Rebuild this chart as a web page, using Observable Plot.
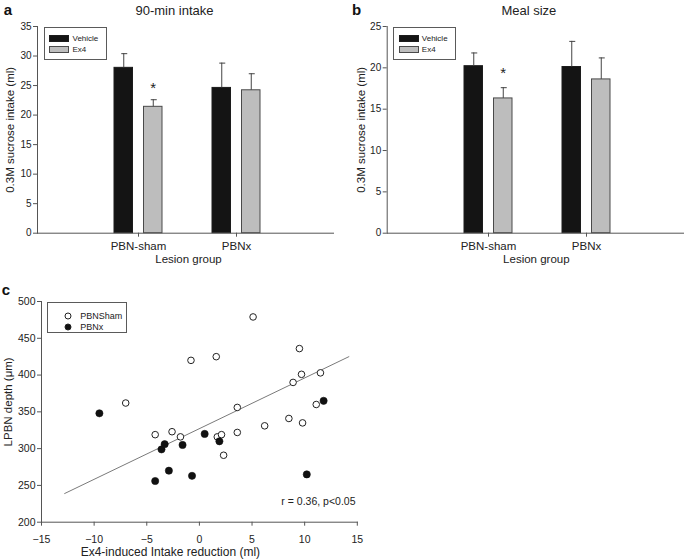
<!DOCTYPE html>
<html>
<head>
<meta charset="utf-8">
<script src="https://cdn.jsdelivr.net/npm/d3@7"></script>
<script src="https://cdn.jsdelivr.net/npm/@observablehq/plot@0.6"></script>
<style>
  html, body { margin: 0; padding: 0; background: #fff; }
  #root { position: relative; width: 685px; height: 559px; overflow: hidden; background: #fff;
          font-family: "Liberation Sans", Arial, sans-serif; color: #222; }
  .panel { position: absolute; }
  .legend { position: absolute; border: 1.3px solid #5a5a5a; background: #fff; box-sizing: border-box; }
  .item { position: absolute; font-size: 8px; line-height: 1; white-space: nowrap; transform: translateY(-50%); color: #222; }
  .sw { position: absolute; box-sizing: border-box; }
  .dot { position: absolute; border-radius: 50%; box-sizing: border-box; transform: translate(-50%, -50%); }
</style>
</head>
<body>
<div id="root"></div>
<script>
// ---------- data ----------
const groups = ["PBN-sham", "PBNx"];
const treatments = ["Vehicle", "Ex4"];
const barGroup = ["PBN-sham", "PBN-sham", "PBNx", "PBNx"];
const barTreatment = ["Vehicle", "Ex4", "Vehicle", "Ex4"];

// panel a: 90-min intake
const intakeMean = [28.0, 21.4, 24.6, 24.2];
const intakeSem = [2.4, 1.2, 4.2, 2.8];
const intakeTicks = [0, 5, 10, 15, 20, 25, 30, 35];
const intakeStarY = [24.6];

// panel b: meal size
const mealMean = [20.2, 16.3, 20.1, 18.6];
const mealSem = [1.6, 1.3, 3.1, 2.6];
const mealTicks = [0, 5, 10, 15, 20, 25];
const mealStarY = [19.4];

const starGroup = ["PBN-sham"];

// panel c: scatter
const shamReduction = [-7.0, -4.2, -2.6, -1.8, -0.8, 1.6, 1.7, 2.1, 2.3, 3.6, 3.6, 5.1, 6.2, 8.5, 8.9, 9.5, 9.7, 9.8, 11.1, 11.5];
const shamDepth     = [362, 319, 323, 316, 420, 425, 316, 319, 291, 356, 322, 479, 331, 341, 390, 436, 401, 335, 360, 403];
const lesionReduction = [-9.5, -4.2, -3.6, -3.3, -2.9, -1.6, -0.7, 0.5, 1.9, 10.2, 11.8];
const lesionDepth     = [348, 256, 299, 306, 270, 305, 263, 320, 310, 265, 365];
const fitReduction = [-12.8, 14.2];
const fitDepth = [239, 425];
const reductionTicks = [-15, -10, -5, 0, 5, 10, 15];
const depthTicks = [200, 250, 300, 350, 400, 450, 500];
const statText = ["r = 0.36, p<0.05"];

const FONT = '"Liberation Sans", Arial, sans-serif';
const AXIS = "#555";
const C = {textAnchor: "middle", lineAnchor: "middle"};

// ---------- bar panels ----------
function barPanel(o) {
  const rows = barGroup.map((g, i) => ({group: g, treatment: barTreatment[i], mean: o.means[i], top: o.means[i] + o.sems[i]}));
  const veh = rows.filter(d => d.treatment === treatments[0]);
  const ex4 = rows.filter(d => d.treatment === treatments[1]);
  const stars = starGroup.map((g, i) => ({group: g, y: o.starY[i]}));
  const off = 14.75;
  return Plot.plot({
    width: o.width, height: 275,
    marginTop: 26, marginBottom: 42.3, marginLeft: o.marginLeft, marginRight: o.marginRight,
    style: {fontFamily: FONT, background: "white", color: "#222", overflow: "visible"},
    x: {domain: groups, paddingInner: 0.51, paddingOuter: 0.765, align: 0.513},
    y: {domain: [0, o.yMax]},
    marks: [
      Plot.barY(veh, {x: "group", y: "mean", fill: "#141414", stroke: "#1c1c1c", strokeWidth: 1, insetLeft: 0, insetRight: 29.5}),
      Plot.barY(ex4, {x: "group", y: "mean", fill: "#bdbdbd", stroke: "#4a4a4a", strokeWidth: 1, insetLeft: 29.5, insetRight: 0}),
      Plot.ruleX(veh, {x: "group", y1: "mean", y2: "top", dx: -off, stroke: "#444"}),
      Plot.ruleX(ex4, {x: "group", y1: "mean", y2: "top", dx: off, stroke: "#444"}),
      Plot.tickY(veh, {x: "group", y: "top", dx: -off + 1, insetLeft: 21, insetRight: 21, stroke: "#444"}),
      Plot.tickY(ex4, {x: "group", y: "top", dx: off + 1, insetLeft: 21, insetRight: 21, stroke: "#444"}),
      Plot.text(stars, {x: "group", y: "y", dx: off, text: () => "*", fontSize: 15, fill: "#222"}),
      Plot.axisY({ticks: o.ticks, tickSize: 4, tickPadding: 2, fontSize: 10, label: null, stroke: AXIS, fill: "#222"}),
      Plot.axisX({tickSize: 4, tickPadding: 5, fontSize: 11.5, label: null, stroke: AXIS, fill: "#222"}),
      Plot.frame({anchor: "left", stroke: AXIS}),
      Plot.frame({anchor: "bottom", stroke: AXIS}),
      Plot.text([o.title], {...C, frameAnchor: "top", text: d => d, dx: o.titleDx, dy: -16, fontSize: 13, fill: "#222"}),
      Plot.text([o.letter], {...C, frameAnchor: "top-left", text: d => d, dx: o.letterDx, dy: -16, fontSize: 15, fontWeight: "bold", fill: "#111"}),
      Plot.text([o.ylabel], {...C, frameAnchor: "left", text: d => d, dx: o.ylabelDx, rotate: -90, fontSize: 11.5, fill: "#222"}),
      Plot.text([o.xlabel], {...C, frameAnchor: "bottom", text: d => d, dx: o.xlabelDx, dy: 26.6, fontSize: 11.5, fill: "#222"})
    ]
  });
}

const root = document.getElementById("root");
function place(node, left, top) {
  const wrap = document.createElement("div");
  wrap.className = "panel";
  wrap.style.left = left + "px";
  wrap.style.top = top + "px";
  wrap.appendChild(node);
  root.appendChild(wrap);
}

const chartA = barPanel({
  means: intakeMean, sems: intakeSem, ticks: intakeTicks, yMax: 35, starY: intakeStarY,
  title: "90-min intake", letter: "a", ylabel: "0.3M sucrose intake (ml)", xlabel: "Lesion group",
  width: 340, marginLeft: 37, marginRight: 7, titleDx: -11, letterDx: -29.5, ylabelDx: -27, xlabelDx: 3
});
place(chartA, 0, 0);

const chartB = barPanel({
  means: mealMean, sems: mealSem, ticks: mealTicks, yMax: 25, starY: mealStarY,
  title: "Meal size", letter: "b", ylabel: "0.3M sucrose intake (ml)", xlabel: "Lesion group",
  width: 345, marginLeft: 46.7, marginRight: 2, titleDx: -6.5, letterDx: -30.7, ylabelDx: -25.7, xlabelDx: 1
});
place(chartB, 340, 0);

// ---------- scatter panel ----------
const sham = shamReduction.map((x, i) => ({x, y: shamDepth[i]}));
const lesion = lesionReduction.map((x, i) => ({x, y: lesionDepth[i]}));
const fit = fitReduction.map((x, i) => ({x, y: fitDepth[i]}));

const chartC = Plot.plot({
  width: 370, height: 279,
  marginTop: 21, marginBottom: 37.3, marginLeft: 41, marginRight: 13.2,
  style: {fontFamily: FONT, background: "white", color: "#222", overflow: "visible"},
  x: {domain: [-15, 15]},
  y: {domain: [200, 500]},
  marks: [
    Plot.line(fit, {x: "x", y: "y", stroke: "#7a7a7a", strokeWidth: 1}),
    Plot.dot(sham, {x: "x", y: "y", r: 3.3, fill: "white", stroke: "#222", strokeWidth: 1}),
    Plot.dot(lesion, {x: "x", y: "y", r: 3.6, fill: "#111", stroke: "#111", strokeWidth: 0.6}),
    Plot.axisY({ticks: depthTicks, tickSize: 4, tickPadding: 2, fontSize: 10.5, label: null, stroke: AXIS, fill: "#222"}),
    Plot.axisX({ticks: reductionTicks, tickSize: 4, tickPadding: 9, fontSize: 10.5, label: null, stroke: AXIS, fill: "#222"}),
    Plot.frame({anchor: "left", stroke: AXIS}),
    Plot.frame({anchor: "bottom", stroke: AXIS}),
    Plot.text(statText, {frameAnchor: "bottom-right", text: d => d, textAnchor: "end", lineAnchor: "middle", dx: -1.8, dy: -21, fontSize: 10.5, fill: "#222"}),
    Plot.text(["c"], {...C, frameAnchor: "top-left", text: d => d, dx: -35.5, dy: -11, fontSize: 15, fontWeight: "bold", fill: "#111"}),
    Plot.text(["LPBN depth (μm)"], {...C, frameAnchor: "left", text: d => d, dx: -33.5, dy: -10, rotate: -90, fontSize: 11.5, fill: "#222"}),
    Plot.text(["Ex4-induced Intake reduction (ml)"], {...C, frameAnchor: "bottom", text: d => d, dx: -29, dy: 30, fontSize: 12, fill: "#222"})
  ]
});
place(chartC, 0, 280);

// ---------- legends (HTML) ----------
function barLegend(left, top) {
  const box = document.createElement("div");
  box.className = "legend";
  Object.assign(box.style, {left: left + "px", top: top + "px", width: "63px", height: "33px"});
  const items = [
    {label: treatments[0], fill: "#141414", border: "#1c1c1c", y: 11},
    {label: treatments[1], fill: "#bdbdbd", border: "#4a4a4a", y: 22}
  ];
  for (const it of items) {
    const sw = document.createElement("div");
    sw.className = "sw";
    Object.assign(sw.style, {left: "4.3px", top: (it.y - 3.3) + "px", width: "20px", height: "6.5px", background: it.fill, border: "1px solid " + it.border});
    box.appendChild(sw);
    const t = document.createElement("div");
    t.className = "item";
    t.textContent = it.label;
    Object.assign(t.style, {left: "27.5px", top: it.y + "px"});
    box.appendChild(t);
  }
  root.appendChild(box);
}
barLegend(44, 26.5);
barLegend(393.3, 26.5);

(function scatterLegend() {
  const box = document.createElement("div");
  box.className = "legend";
  Object.assign(box.style, {left: "47.3px", top: "302.3px", width: "80px", height: "30.5px"});
  const items = [
    {label: "PBNSham", fill: "#fff", y: 12.5},
    {label: "PBNx", fill: "#111", y: 23.5}
  ];
  for (const it of items) {
    const d = document.createElement("div");
    d.className = "dot";
    Object.assign(d.style, {left: "19.4px", top: it.y + "px", width: "7px", height: "7px", background: it.fill, border: "1px solid #222"});
    box.appendChild(d);
    const t = document.createElement("div");
    t.className = "item";
    t.textContent = it.label;
    Object.assign(t.style, {left: "32px", top: it.y + "px", fontSize: "9px"});
    box.appendChild(t);
  }
  root.appendChild(box);
})();
</script>
</body>
</html>
